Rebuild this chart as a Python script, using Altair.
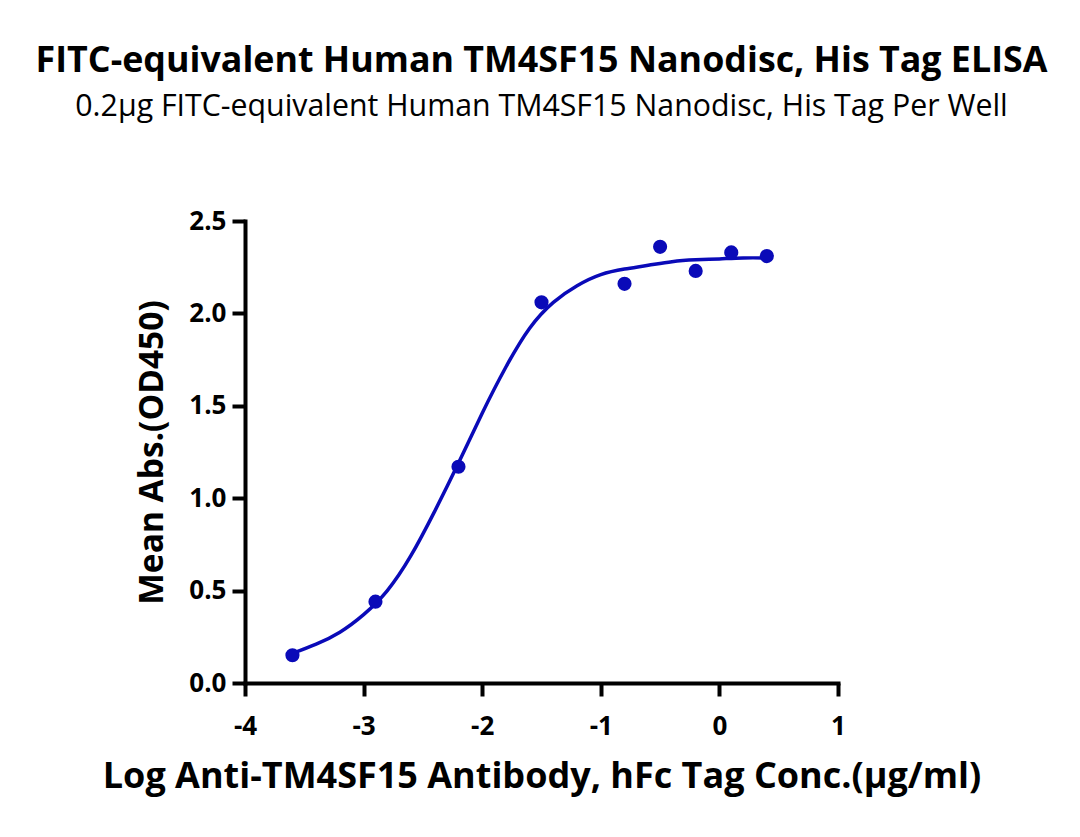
import altair as alt
import pandas as pd

# Measured points (log conc, mean absorbance)
pt_x = [-3.6, -2.9, -2.2, -1.5, -0.8, -0.5, -0.2, 0.1, 0.4]
pt_y = [0.15, 0.44, 1.17, 2.06, 2.16, 2.36, 2.23, 2.33, 2.31]

# Fitted curve
cv_x = [-3.6, -3.4, -3.2, -3.0, -2.8, -2.6, -2.4, -2.2, -2.0, -1.8, -1.6,
        -1.4, -1.2, -1.0, -0.8, -0.6, -0.4, -0.2, 0.0, 0.2, 0.4]
cv_y = [0.16, 0.21, 0.275, 0.37, 0.50, 0.69, 0.93, 1.19, 1.46, 1.71, 1.92,
        2.06, 2.15, 2.21, 2.24, 2.26, 2.28, 2.29, 2.295, 2.30, 2.30]

x_ticks = [-4, -3, -2, -1, 0, 1]
y_ticks = [0.0, 0.5, 1.0, 1.5, 2.0, 2.5]

title_text = "FITC-equivalent Human TM4SF15 Nanodisc, His Tag ELISA"
subtitle_text = "0.2\u03bcg FITC-equivalent Human TM4SF15 Nanodisc, His Tag Per Well"
x_title = "Log Anti-TM4SF15 Antibody, hFc Tag Conc.(\u03bcg/ml)"
y_title = "Mean Abs.(OD450)"

FONT = "Open Sans"
BLUE = "#0a0ab8"

pts = pd.DataFrame({"x": pt_x, "y": pt_y})
curve = pd.DataFrame({"x": cv_x, "y": cv_y})

xscale = alt.Scale(domain=[-4, 1], nice=False, zero=False)
yscale = alt.Scale(domain=[0, 2.5], nice=False)

xaxis = alt.Axis(values=x_ticks, labelExpr="toString(datum.value)", title=x_title,
                 grid=False, domainColor="black", domainWidth=4, tickColor="black",
                 tickWidth=4, tickSize=13, labelFont=FONT, labelFontSize=26,
                 labelFontWeight="bold", labelColor="black", labelPadding=17,
                 titleFont=FONT, titleFontSize=36, titleFontWeight="bold",
                 titleColor="black", titlePadding=20, labelFlush=False)
yaxis = alt.Axis(values=y_ticks, format=".1f", title=y_title,
                 grid=False, domainColor="black", domainWidth=4, tickColor="black",
                 tickWidth=4, tickSize=13, labelFont=FONT, labelFontSize=26,
                 labelFontWeight="bold", labelColor="black", labelPadding=6,
                 titleFont=FONT, titleFontSize=33.5, titleFontWeight="bold",
                 titleColor="black", titlePadding=19, labelFlush=False)

line = alt.Chart(curve).mark_line(color=BLUE, strokeWidth=3.5, interpolate="natural").encode(
    x=alt.X("x:Q", scale=xscale, axis=xaxis),
    y=alt.Y("y:Q", scale=yscale, axis=yaxis),
)
dots = alt.Chart(pts).mark_circle(color=BLUE, size=200, opacity=1).encode(
    x=alt.X("x:Q", scale=xscale),
    y=alt.Y("y:Q", scale=yscale),
)

chart = alt.layer(line, dots).properties(
    width=593, height=462,
    title=alt.TitleParams(text=title_text, subtitle=subtitle_text, anchor="middle",
                          frame="group", font=FONT, fontSize=35.8, fontWeight="bold",
                          color="black", subtitleFont=FONT, subtitleFontSize=30.3,
                          subtitleColor="black", subtitlePadding=12, offset=85),
    padding={"left": 237, "top": 213, "right": 220, "bottom": 140},
    autosize=alt.AutoSizeParams(type="none"),
).configure_view(stroke=None).configure_axis(domainCap="square")

chart.save("out.html", embed_options={"renderer": "svg", "actions": False})
